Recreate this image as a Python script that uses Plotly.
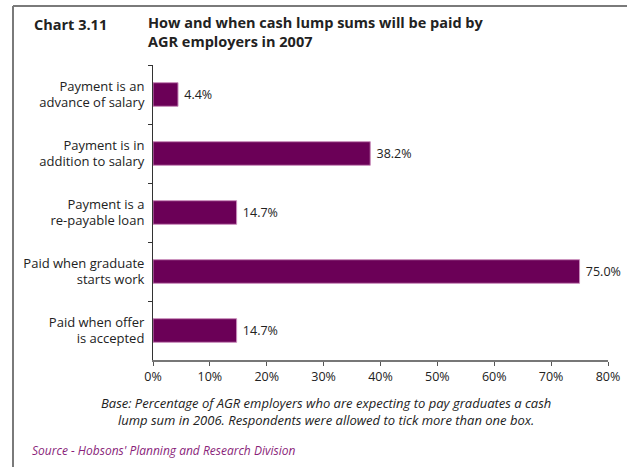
import plotly.graph_objects as go

# Survey categories (top to bottom) and share of employers (%)
categories = [
    "Payment is an<br>advance of salary",
    "Payment is in<br>addition to salary",
    "Payment is a<br>re-payable loan",
    "Paid when graduate<br>starts work",
    "Paid when offer<br>is accepted",
]
shares = [4.4, 38.2, 14.7, 75.0, 14.7]
x_ticks = [0, 10, 20, 30, 40, 50, 60, 70, 80]
x_tick_labels = [f"{v}%" for v in x_ticks]

W, H = 627, 467
ML, MR, MT, MB = 153, 19, 65, 107
PW, PH = W - ML - MR, H - MT - MB

FONT = "Open Sans, Noto Sans, sans-serif"
BAR = "#6b0057"
TEXT = "#222222"
SOURCE = "#8a1f7a"


def px(x):
    return (x - ML) / PW


def py(y):
    return (H - MB - y) / PH


fig = go.Figure(
    go.Bar(
        x=shares,
        y=categories,
        orientation="h",
        width=0.4,
        marker=dict(color=BAR, line=dict(color="#c98cbb", width=1)),
        text=[f"\u00a0{v:.1f}%" for v in shares],
        textposition="outside",
        textfont=dict(family=FONT, size=12.5, color=TEXT),
        cliponaxis=False,
        hoverinfo="skip",
    )
)

fig.update_layout(
    width=W,
    height=H,
    margin=dict(l=ML, r=MR, t=MT, b=MB, autoexpand=False),
    paper_bgcolor="white",
    plot_bgcolor="white",
    showlegend=False,
    font=dict(family=FONT, size=12, color=TEXT),
    xaxis=dict(
        range=[0, 80],
        tickvals=x_ticks,
        ticktext=x_tick_labels,
        showgrid=False,
        zeroline=False,
        showline=True,
        linecolor="#777777",
        linewidth=2,
        ticks="outside",
        ticklen=4,
        tickcolor="#555555",
        tickfont=dict(family=FONT, size=12.5, color=TEXT),
    ),
    yaxis=dict(
        autorange="reversed",
        showgrid=False,
        zeroline=False,
        showline=True,
        linecolor="#333333",
        linewidth=1,
        ticks="outside",
        tickson="boundaries",
        ticklen=4,
        tickcolor="#333333",
        ticklabelstandoff=5,
        tickfont=dict(family=FONT, size=13, color=TEXT),
    ),
)

# Open frame: top rule and left rule
frame = dict(type="line", xref="paper", yref="paper",
             line=dict(color="#7a7a7a", width=2))
fig.add_shape(**frame, x0=px(13), x1=px(W + 5), y0=py(6), y1=py(6))
fig.add_shape(**frame, x0=px(13), x1=px(13), y0=py(6), y1=py(H + 5))

fig.add_annotation(
    x=px(32), y=py(36), xref="paper", yref="paper",
    xanchor="left", yanchor="bottom", showarrow=False,
    text="<b>Chart 3.11</b>",
    font=dict(family=FONT, size=14.5, color=TEXT),
)
fig.add_annotation(
    x=px(146), y=py(53), xref="paper", yref="paper",
    xanchor="left", yanchor="bottom", showarrow=False, align="left",
    text="<b>How and when cash lump sums will be paid by<br>AGR employers in 2007</b>",
    font=dict(family=FONT, size=14.5, color=TEXT),
)
fig.add_annotation(
    x=px(326), y=py(392), xref="paper", yref="paper",
    xanchor="center", yanchor="top", showarrow=False, align="center",
    text="<i>Base: Percentage of AGR employers who are expecting to pay graduates a cash<br>"
         "lump sum in 2006. Respondents were allowed to tick more than one box.</i>",
    font=dict(family=FONT, size=13, color=TEXT),
)
fig.add_annotation(
    x=px(30), y=py(440), xref="paper", yref="paper",
    xanchor="left", yanchor="top", showarrow=False,
    text="<i>Source - Hobsons' Planning and Research Division</i>",
    font=dict(family=FONT, size=12, color=SOURCE),
)

fig.write_html("out.html")
